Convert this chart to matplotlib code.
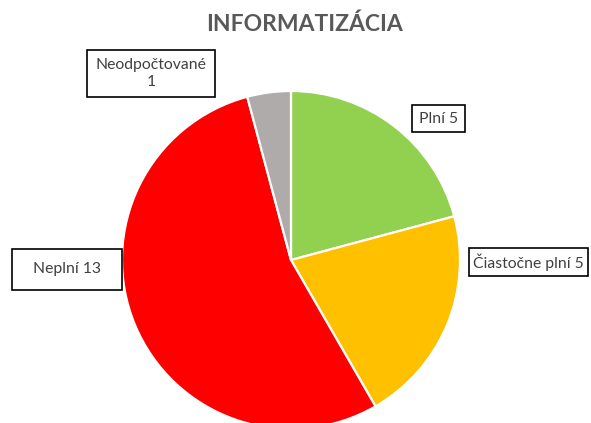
import matplotlib
matplotlib.use("Agg")
import matplotlib.pyplot as plt
from matplotlib.patches import Rectangle

title = "INFORMATIZÁCIA"
categories = ["Plní", "Čiastočne plní", "Neplní", "Neodpočtované"]
values = [5, 5, 13, 1]
colors = ["#92D050", "#FFC000", "#FF0000", "#AFABAB"]

W, H = 591, 423
fig = plt.figure(figsize=(W / 100, H / 100), dpi=100)
ax = fig.add_axes([0, 0, 1, 1])
ax.set_xlim(0, W)
ax.set_ylim(0, H)
ax.set_aspect("equal")
ax.axis("off")

cx, cy, r = 291, H - 260, 169
ax.pie(values, colors=colors, startangle=90, counterclock=False,
       center=(cx, cy), radius=r, frame=True,
       wedgeprops=dict(edgecolor="white", linewidth=1.6))
ax.set_xlim(0, W)
ax.set_ylim(0, H)
ax.axis("off")

font = ["Lato", "DejaVu Sans"]
# label boxes: (x0, y0_top, x1, y1_bottom) in pixels
boxes = [
    (412, 105, 465, 132, f"{categories[0]} {values[0]}"),
    (469, 248, 588, 276, f"{categories[1]} {values[1]}"),
    (12, 249, 122, 290, f"{categories[2]} {values[2]}"),
    (87, 50, 215, 97, f"{categories[3]}\n{values[3]}"),
]
for x0, y0, x1, y1, txt in boxes:
    ax.add_patch(Rectangle((x0, H - y1), x1 - x0, y1 - y0, facecolor="white",
                           edgecolor="black", linewidth=1.2, zorder=5))
    ax.text((x0 + x1) / 2, H - (y0 + y1) / 2, txt, ha="center", va="center",
            fontsize=11.3, color="#404040", family=font, zorder=6,
            linespacing=1.2)

ax.text(305, H - 24, title, ha="center", va="center", fontsize=16.5,
        fontweight="bold", color="#595959", family=font)

fig.savefig("out.png", dpi=100)
